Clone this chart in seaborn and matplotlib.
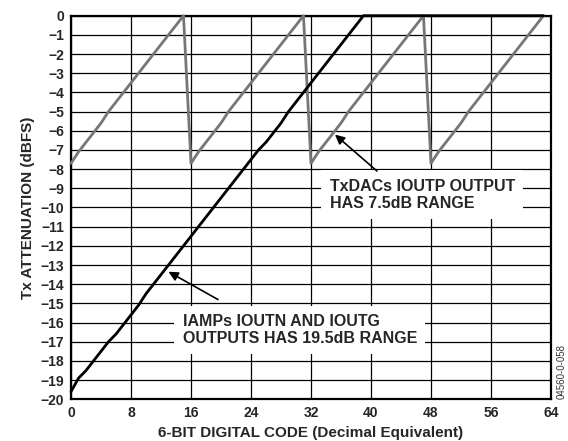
import matplotlib
matplotlib.use("Agg")
import matplotlib.pyplot as plt
import seaborn as sns
import pandas as pd

# Digital code (0..63) and resulting attenuation for the two outputs
codes = list(range(64))

txdac_ioutp_db = [
    -7.7, -7.1, -6.6, -6.1, -5.6, -5.0, -4.5, -4.0,
    -3.5, -3.0, -2.5, -2.0, -1.5, -1.0, -0.5, 0.0,
    -7.7, -7.1, -6.6, -6.1, -5.6, -5.0, -4.5, -4.0,
    -3.5, -3.0, -2.5, -2.0, -1.5, -1.0, -0.5, 0.0,
    -7.7, -7.1, -6.6, -6.1, -5.6, -5.0, -4.5, -4.0,
    -3.5, -3.0, -2.5, -2.0, -1.5, -1.0, -0.5, 0.0,
    -7.7, -7.1, -6.6, -6.1, -5.6, -5.0, -4.5, -4.0,
    -3.5, -3.0, -2.5, -2.0, -1.5, -1.0, -0.5, 0.0,
]

iamp_ioutn_db = [
    -19.6, -18.9, -18.5, -18.0, -17.5, -17.0, -16.6, -16.1,
    -15.6, -15.1, -14.5, -14.0, -13.5, -13.0, -12.5, -12.0,
    -11.5, -11.0, -10.5, -10.0, -9.5, -9.0, -8.5, -8.0,
    -7.5, -7.0, -6.6, -6.1, -5.6, -5.0, -4.5, -4.0,
    -3.5, -3.0, -2.5, -2.0, -1.5, -1.0, -0.5, 0.0,
    0.0, 0.0, 0.0, 0.0, 0.0, 0.0, 0.0, 0.0,
    0.0, 0.0, 0.0, 0.0, 0.0, 0.0, 0.0, 0.0,
    0.0, 0.0, 0.0, 0.0, 0.0, 0.0, 0.0, 0.0,
]

x_ticks = [0, 8, 16, 24, 32, 40, 48, 56, 64]
y_ticks = list(range(-20, 1))

sns.set_style("white")
plt.rcParams["font.family"] = ["Liberation Sans", "DejaVu Sans"]
plt.rcParams["axes.unicode_minus"] = True

df = pd.DataFrame({"code": codes, "txdac": txdac_ioutp_db, "iamp": iamp_ioutn_db})

fig = plt.figure(figsize=(5.68, 4.41), dpi=100)
ax = fig.add_axes([0.125, 0.0946, 0.845, 0.8698])

sns.lineplot(data=df, x="code", y="txdac", color="#767676", linewidth=2.0,
             ax=ax, zorder=3, clip_on=False)
sns.lineplot(data=df, x="code", y="iamp", color="black", linewidth=2.0,
             ax=ax, zorder=4, clip_on=False)

ax.set_xlim(0, 64)
ax.set_ylim(-20, 0)
ax.set_xticks(x_ticks)
ax.set_yticks(y_ticks)
ax.set_xticklabels([str(v) for v in x_ticks], fontweight="bold", fontsize=10)
ax.set_yticklabels([str(v).replace("-", "\u2212") for v in y_ticks],
                   fontweight="bold", fontsize=10)
ax.tick_params(axis="x", length=0, pad=5)
ax.tick_params(axis="y", length=0, pad=5)
ax.grid(True, color="black", linewidth=0.9)
ax.set_axisbelow(True)
for sp in ax.spines.values():
    sp.set_visible(True)
    sp.set_color("black")
    sp.set_linewidth(1.6)

ax.set_xlabel("")
ax.set_ylabel("Tx ATTENUATION (dBFS)", fontweight="bold", fontsize=11,
              labelpad=4)
fig.text(0.547, 0.002, "6-BIT DIGITAL CODE (Decimal Equivalent)",
         fontweight="bold", fontsize=11, ha="center", va="bottom")

box = dict(facecolor="white", edgecolor="none", pad=6)

ax.text(34.5, -8.5, "TxDACs IOUTP OUTPUT\nHAS 7.5dB RANGE", fontsize=11.5,
        fontweight="bold", va="top", ha="left", linespacing=1.15,
        bbox=box, zorder=5)
ax.annotate("", xy=(35.2, -6.2), xytext=(40.8, -8.1),
            arrowprops=dict(arrowstyle="-|>", color="black", lw=1.2,
                            mutation_scale=14, shrinkA=0, shrinkB=0),
            zorder=6)

ax.text(14.9, -15.55, "IAMPs IOUTN AND IOUTG\nOUTPUTS HAS 19.5dB RANGE",
        fontsize=11.5, fontweight="bold", va="top", ha="left",
        linespacing=1.15, bbox=box, zorder=5)
ax.annotate("", xy=(13.0, -13.35), xytext=(19.6, -14.8),
            arrowprops=dict(arrowstyle="-|>", color="black", lw=1.2,
                            mutation_scale=14, shrinkA=0, shrinkB=0),
            zorder=6)

fig.text(0.9975, 0.095, "04560-0-058", rotation=90, fontsize=7,
         color="#333333", ha="right", va="bottom")

fig.savefig("out.png", dpi=100)
